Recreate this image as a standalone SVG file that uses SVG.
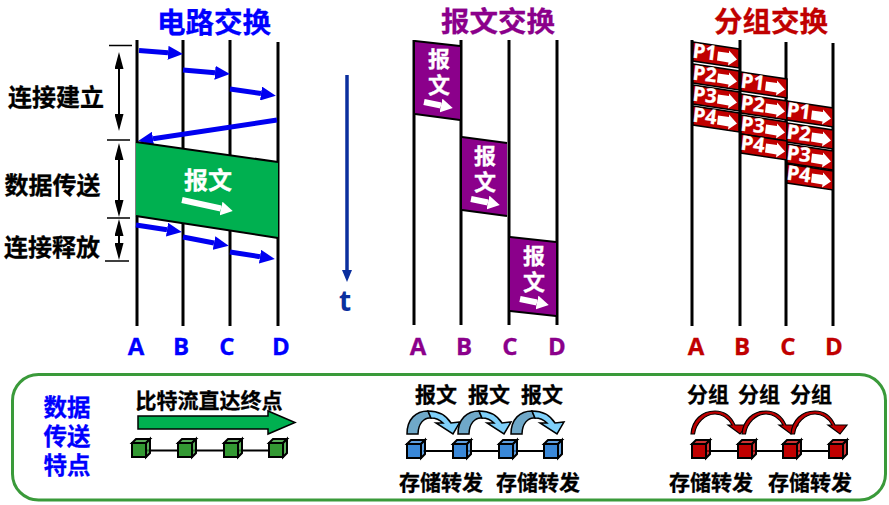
<svg xmlns="http://www.w3.org/2000/svg" xmlns:xlink="http://www.w3.org/1999/xlink" width="889" height="505" viewBox="0 0 889 505">
<style>
text{font-family:"Noto Sans CJK SC","Noto Sans",sans-serif;font-weight:700;text-anchor:middle;dominant-baseline:central}
.lat{font-family:"Open Sans","Liberation Sans",sans-serif}
.title{font-size:28.5px}
.lab{font-size:24px}
.sm{font-size:21px}
.ms{font-size:22px}
.pn{font-size:20px}
.k{fill:#000;stroke:#000;stroke-width:.3}
.b{fill:#0000ff;stroke:#0000ff;stroke-width:.3}
.p{fill:#8b008b;stroke:#8b008b;stroke-width:.3}
.r{fill:#c00000;stroke:#c00000;stroke-width:.3}
.w{fill:#fff;stroke:#fff;stroke-width:.3}
.v{stroke:#000;stroke-width:3;fill:none}
.t{stroke:#000;stroke-width:1.6;fill:none}
.ba{stroke:#0000f0;stroke-width:5;fill:none;marker-end:url(#mb)}
.da{stroke:#000;stroke-width:2;fill:none;marker-start:url(#mk);marker-end:url(#mk)}
.wa{stroke:#fff;stroke-width:6;fill:none;marker-end:url(#mw)}
.box{stroke:#000;stroke-width:1.5}
.pk{fill:#c00000;stroke:#000;stroke-width:1.5}
.pp{fill:#8b008b}
.cg{fill:#339933}.cb{fill:#3a88d8}.cr{fill:#c00000}
.cu{stroke:#000;stroke-width:2;stroke-linejoin:miter}
.lk{stroke:#000;stroke-width:2}
.cd{fill:#6fa8c8;stroke:#000;stroke-width:1.5}
.cl{fill:#7fd0fa;stroke:#000;stroke-width:1.5}
</style>
<defs>
<marker id="mb" markerUnits="userSpaceOnUse" markerWidth="16" markerHeight="14" refX="0" refY="7" orient="auto"><path d="M0,0L15,7L0,14z" fill="#0000f0"/></marker>
<marker id="mk" markerUnits="userSpaceOnUse" markerWidth="17" markerHeight="9" refX="0" refY="4.500" orient="auto-start-reverse"><path d="M0,0L17,4.500L0,9z" fill="#000"/></marker>
<marker id="mw" markerUnits="userSpaceOnUse" markerWidth="13" markerHeight="14" refX="0" refY="7" orient="auto"><path d="M0,0L12,7L0,14z" fill="#fff"/></marker>
<marker id="mt" markerUnits="userSpaceOnUse" markerWidth="12" markerHeight="10" refX="0" refY="5" orient="auto"><path d="M0,0L12,5L0,10z" fill="#0b2f9e"/></marker>
<g id="cube"><rect class="cu" x="1" y="4" width="14" height="14"/><polygon class="cu" points="1,4 5,0 19,0 15,4" fill-opacity=".8"/><polygon class="cu" points="15,4 19,0 19,14 15,18" fill-opacity=".8"/></g>
<polygon id="pkt" class="pk" points="0,0 46,7 46,26 0,19"/>
<path id="pa" d="M25,9.500L36,11L36,8.500L44,17.500L35,23.500L35.500,20.500L24,18.500z" fill="#fff"/>
<g id="bc"><path class="cd" d="M0,24C0,9 9,1 21,1L24,8C17,7 11,14 11,24z"/><path class="cl" d="M21,1C30,1 39,5 44,13L53,12L46,24L29,13L36,13C33,10 29,8 24,8z"/></g>
<path id="rc" d="M0,24C1,10 11,1 24,1C33,1 40,6 44,15L56,15L49,24L37,15L41,15C37,8 31,4 24,4C14,4 5,13 3.500,24z" fill="#c00000" stroke="#000" stroke-width="1.200"/>
</defs>

<g id="connectors">
<path class="v" d="M137,40V326M183,40V326M230,40V326M278,42V326"/>
<path class="v" d="M414,40V325M461,40V325M509,40V325M557,40V325"/>
<path class="v" d="M692,40V326M740,40V326M786,42V326M833,43V326"/>
<path class="ba" d="M139,50.500L168,52.800"/>
<path class="ba" d="M183,70L215,72.800"/>
<path class="ba" d="M230,89L261,93.500"/>
<path class="ba" d="M277,120L153,138.700"/>
<path class="ba" d="M136,225L167,229.700"/>
<path class="ba" d="M183,237L214,243"/>
<path class="ba" d="M230,252L260,256.700"/>
<path class="t" d="M109,45.500H132M107,140H130M107,218H130M105,261H129"/>
<path class="da" d="M119,69V114"/>
<path class="da" d="M119,160V200"/>
<path class="da" d="M119,236V243"/>
<path d="M347,75V270" stroke="#0b2f9e" stroke-width="3.500" fill="none" marker-end="url(#mt)"/>
<path class="lk" d="M147,450.500H269M423,451H545M707,451H829"/>
</g>

<g id="title-circuit"><text class="title b" x="214" y="20">电路交换</text></g>
<g id="title-message"><text class="title p" x="498" y="19.500">报文交换</text></g>
<g id="title-packet"><text class="title r" x="771" y="19.500">分组交换</text></g>

<g id="phase-setup"><text class="lab k" x="56" y="95.500">连接建立</text></g>
<g id="phase-data"><text class="lab k" x="52.500" y="183">数据传送</text></g>
<g id="phase-release"><text class="lab k" x="52" y="245.500">连接释放</text></g>

<g id="circuit-message">
<polygon points="136,142 278,162 278,238 136,216" fill="#00b050"/>
<path d="M136,142L278,162M136,216L278,238" stroke="#000" stroke-width="2" fill="none"/>
<text class="lab w" x="208" y="178.500">报文</text>
<path class="wa" d="M182,200L221,208.500"/>
</g>

<g id="time-axis"><text class="lat" x="345" y="300" font-size="28" fill="#0b2f9e">t</text></g>

<g id="circuit-stations">
<text class="lat lab b" x="136" y="345">A</text><text class="lat lab b" x="181" y="345">B</text><text class="lat lab b" x="227" y="345">C</text><text class="lat lab b" x="281" y="345">D</text>
</g>
<g id="message-stations">
<text class="lat lab p" x="418" y="345">A</text><text class="lat lab p" x="464" y="345">B</text><text class="lat lab p" x="510" y="345">C</text><text class="lat lab p" x="557" y="345">D</text>
</g>
<g id="packet-stations">
<text class="lat lab r" x="696" y="345">A</text><text class="lat lab r" x="742" y="345">B</text><text class="lat lab r" x="788" y="345">C</text><text class="lat lab r" x="834" y="345">D</text>
</g>

<g id="msg-1">
<polygon class="pp" points="415,41 460,46 460,120 415,114"/>
<path d="M415,41L460,46M415,114L460,120" stroke="#000" stroke-width="2"/>
<text class="ms w" x="439" y="57">报</text><text class="ms w" x="439" y="83">文</text>
<path class="wa" d="M424,102L441,105.500"/>
</g>
<g id="msg-2">
<polygon class="pp" points="462,137 507,143 507,216 462,210"/>
<path d="M462,137L507,143M462,210L507,216" stroke="#000" stroke-width="2"/>
<text class="ms w" x="485" y="154">报</text><text class="ms w" x="485" y="180">文</text>
<path class="wa" d="M471,199L488,202.500"/>
</g>
<g id="msg-3">
<polygon class="pp" points="510,237 556,242 556,316 510,311"/>
<path d="M510,237L556,242M510,311L556,316" stroke="#000" stroke-width="2"/>
<text class="ms w" x="534" y="254">报</text><text class="ms w" x="534" y="280">文</text>
<path class="wa" d="M520,299L537,302.500"/>
</g>

<g id="pkt-a1" transform="translate(693,42)"><use href="#pkt"/><text class="lat pn w" x="12" y="9.500" transform="rotate(7 12 9)">P1</text><use href="#pa"/></g>
<g id="pkt-a2" transform="translate(693,64)"><use href="#pkt"/><text class="lat pn w" x="12" y="9.500" transform="rotate(7 12 9)">P2</text><use href="#pa"/></g>
<g id="pkt-a3" transform="translate(693,85)"><use href="#pkt"/><text class="lat pn w" x="12" y="9.500" transform="rotate(7 12 9)">P3</text><use href="#pa"/></g>
<g id="pkt-a4" transform="translate(693,106)"><use href="#pkt"/><text class="lat pn w" x="12" y="9.500" transform="rotate(7 12 9)">P4</text><use href="#pa"/></g>

<g id="pkt-b1" transform="translate(741,72)"><use href="#pkt"/><text class="lat pn w" x="12" y="9.500" transform="rotate(7 12 9)">P1</text><use href="#pa"/></g>
<g id="pkt-b2" transform="translate(741,94)"><use href="#pkt"/><text class="lat pn w" x="12" y="9.500" transform="rotate(7 12 9)">P2</text><use href="#pa"/></g>
<g id="pkt-b3" transform="translate(741,115)"><use href="#pkt"/><text class="lat pn w" x="12" y="9.500" transform="rotate(7 12 9)">P3</text><use href="#pa"/></g>
<g id="pkt-b4" transform="translate(741,134)"><use href="#pkt"/><text class="lat pn w" x="12" y="9.500" transform="rotate(7 12 9)">P4</text><use href="#pa"/></g>

<g id="pkt-c1" transform="translate(787,101)"><use href="#pkt"/><text class="lat pn w" x="12" y="9.500" transform="rotate(7 12 9)">P1</text><use href="#pa"/></g>
<g id="pkt-c2" transform="translate(787,123)"><use href="#pkt"/><text class="lat pn w" x="12" y="9.500" transform="rotate(7 12 9)">P2</text><use href="#pa"/></g>
<g id="pkt-c3" transform="translate(787,144)"><use href="#pkt"/><text class="lat pn w" x="12" y="9.500" transform="rotate(7 12 9)">P3</text><use href="#pa"/></g>
<g id="pkt-c4" transform="translate(787,164)"><use href="#pkt"/><text class="lat pn w" x="12" y="9.500" transform="rotate(7 12 9)">P4</text><use href="#pa"/></g>

<g id="panel">
<rect x="12.500" y="374.500" width="873" height="125.500" rx="26" fill="none" stroke="#3a9a3a" stroke-width="3"/>
<text class="b" font-size="23.500" x="67" y="405.500">数据</text>
<text class="b" font-size="23.500" x="67" y="434.500">传送</text>
<text class="b" font-size="23.500" x="67" y="463.500">特点</text>
</g>

<g id="stream">
<text class="sm k" x="209" y="398.500">比特流直达终点</text>
<polygon class="box" points="138,416 268,416 268,411 295,422.500 268,434 268,429 138,429" fill="#00b050"/>
</g>
<g id="green-nodes"><use href="#cube" class="cg" x="131" y="439"/><use href="#cube" class="cg" x="177" y="439"/><use href="#cube" class="cg" x="223" y="439"/><use href="#cube" class="cg" x="268" y="439"/></g>

<g id="msg-hops">
<use href="#bc" x="407" y="410"/><use href="#bc" x="458" y="410"/><use href="#bc" x="511" y="410"/>
<text class="sm k" x="436" y="392.500">报文</text><text class="sm k" x="489" y="392.500">报文</text><text class="sm k" x="542" y="392.500">报文</text>
</g>
<g id="blue-nodes"><use href="#cube" class="cb" x="406" y="440"/><use href="#cube" class="cb" x="452" y="440"/><use href="#cube" class="cb" x="498" y="440"/><use href="#cube" class="cb" x="543" y="440"/></g>
<g id="msg-store"><text class="sm k" x="441" y="480.500">存储转发</text><text class="sm k" x="538" y="480.500">存储转发</text></g>

<g id="pkt-hops">
<use href="#rc" x="691" y="410"/><use href="#rc" x="742" y="410"/><use href="#rc" x="791" y="410"/>
<text class="sm k" x="708" y="392.500">分组</text><text class="sm k" x="759" y="392.500">分组</text><text class="sm k" x="811" y="392.500">分组</text>
</g>
<g id="red-nodes"><use href="#cube" class="cr" x="691" y="440"/><use href="#cube" class="cr" x="737" y="440"/><use href="#cube" class="cr" x="782" y="440"/><use href="#cube" class="cr" x="828" y="440"/></g>
<g id="pkt-store"><text class="sm k" x="711" y="480.500">存储转发</text><text class="sm k" x="810" y="480.500">存储转发</text></g>
</svg>
